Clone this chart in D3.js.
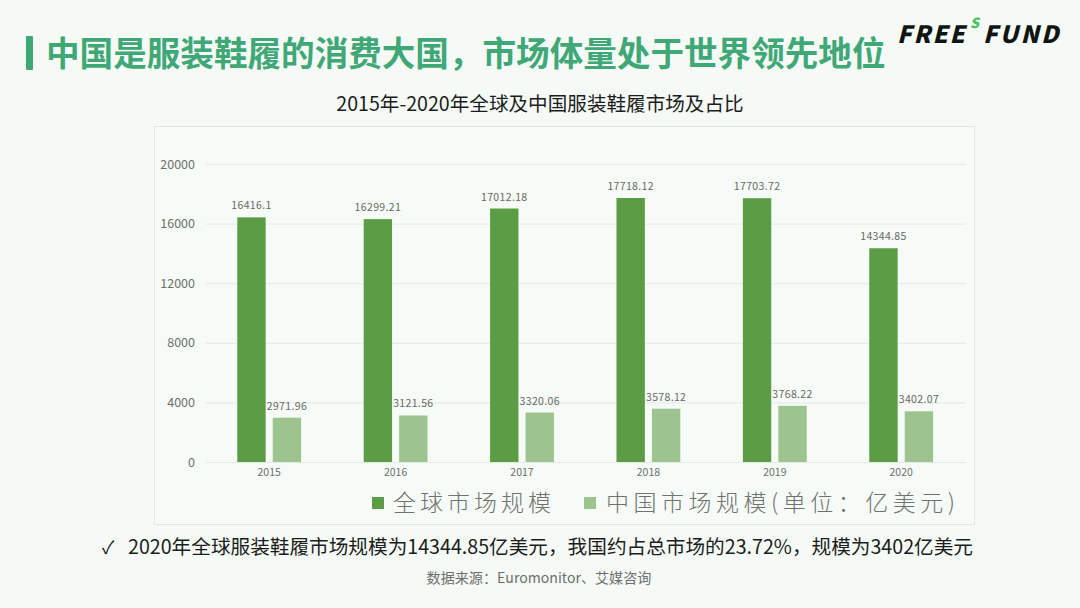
<!DOCTYPE html>
<html>
<head>
<meta charset="utf-8">
<script src="https://cdnjs.cloudflare.com/ajax/libs/d3/7.8.5/d3.min.js"></script>
<style>
  html, body { margin: 0; padding: 0; background: #f5faf6; }
  svg { display: block; }
  text { font-family: "Noto Sans CJK SC", "Noto Sans", sans-serif; }
</style>
</head>
<body>
<svg id="chart" width="1080" height="608"></svg>
<script>
const years = ["2015", "2016", "2017", "2018", "2019", "2020"];
const seriesNames = ["全球市场规模", "中国市场规模(单位：亿美元)"];
const globalValues = [16416.1, 16299.21, 17012.18, 17718.12, 17703.72, 14344.85];
const chinaValues = [2971.96, 3121.56, 3320.06, 3578.12, 3768.22, 3402.07];
const valueTicks = [0, 4000, 8000, 12000, 16000, 20000];
const seriesColors = ["#5c9c45", "#9dc48f"];

const svg = d3.select("#chart");

// slide header
svg.append("rect").attr("x", 26).attr("y", 36).attr("width", 7).attr("height", 34)
  .attr("rx", 1).attr("fill", "#3fa876");
svg.append("text").attr("x", 46).attr("y", 66)
  .attr("font-size", 33.6).attr("font-weight", 700).attr("fill", "#3fa876")
  .text("中国是服装鞋履的消费大国，市场体量处于世界领先地位");

// logo
const logo = svg.append("g").attr("font-family", "Roboto, Inter, sans-serif")
  .attr("font-size", 24).attr("font-weight", 900).attr("font-style", "italic")
  .attr("fill", "#101512");
logo.append("text").attr("x", 897).attr("y", 43).attr("letter-spacing", 2).text("FREE");
logo.append("text").attr("x", 983).attr("y", 43).attr("letter-spacing", 2.3).text("FUND");
logo.append("text").attr("x", 970).attr("y", 28).attr("font-size", 14).attr("fill", "#4cc05a").text("S");

// chart frame and title
svg.append("text").attr("x", 540).attr("y", 111).attr("text-anchor", "middle")
  .attr("font-size", 19.6).attr("fill", "#1c1c1c")
  .text("2015年-2020年全球及中国服装鞋履市场及占比");
svg.append("rect").attr("x", 154.5).attr("y", 126.5).attr("width", 820).attr("height", 398)
  .attr("fill", "#f6fbf7").attr("stroke", "#e1e7e2");

const x0 = d3.scaleBand().domain(years).range([206, 964.4]).paddingInner(0.495).paddingOuter(0.2475);
const x1 = d3.scaleBand().domain(seriesNames).range([0, x0.bandwidth()]).paddingInner(0.2);
const y = d3.scaleLinear().domain([0, 20000]).range([462, 164]);

// gridlines
svg.append("g").selectAll("line").data(valueTicks).join("line")
  .attr("x1", 206).attr("x2", 966)
  .attr("y1", d => y(d) + 0.5).attr("y2", d => y(d) + 0.5)
  .attr("stroke", "#e3e9e3");

// y axis labels
const yAxis = svg.append("g").attr("transform", "translate(206,0)")
  .call(d3.axisLeft(y).tickValues(valueTicks).tickFormat(d3.format("d")).tickSize(0).tickPadding(11));
yAxis.select(".domain").remove();
yAxis.selectAll("text").attr("font-size", 12.5).attr("fill", "#6d6f6d")
  .style("font-family", '"Noto Sans CJK SC", sans-serif');

// x axis labels
const xAxis = svg.append("g").attr("transform", "translate(0,462)")
  .call(d3.axisBottom(x0).tickSize(0).tickPadding(7));
xAxis.select(".domain").remove();
xAxis.selectAll("text").attr("font-size", 10.5).attr("fill", "#6d6f6d")
  .style("font-family", '"Noto Sans CJK SC", sans-serif');

// bars and value labels
[globalValues, chinaValues].forEach((values, s) => {
  const g = svg.append("g");
  g.selectAll("rect").data(values).join("rect")
    .attr("x", (d, i) => x0(years[i]) + x1(seriesNames[s]))
    .attr("y", d => y(d))
    .attr("width", x1.bandwidth())
    .attr("height", d => y(0) - y(d))
    .attr("fill", seriesColors[s]);
  g.selectAll("text").data(values).join("text")
    .attr("x", (d, i) => x0(years[i]) + x1(seriesNames[s]) + x1.bandwidth() / 2)
    .attr("y", d => y(d) - 8)
    .attr("text-anchor", "middle")
    .attr("font-size", 10.5).attr("letter-spacing", 0.35).attr("fill", "#666866")
    .text(d => d);
});

// legend
const legend = svg.append("g").attr("font-size", 23).attr("font-weight", 300)
  .attr("fill", "#707270");
legend.append("rect").attr("x", 372).attr("y", 497).attr("width", 12).attr("height", 12).attr("fill", seriesColors[0]);
legend.append("text").attr("x", 393).attr("y", 511).attr("letter-spacing", 4).text(seriesNames[0]);
legend.append("rect").attr("x", 584).attr("y", 497).attr("width", 12).attr("height", 12).attr("fill", seriesColors[1]);
legend.append("text").attr("x", 606).attr("y", 511).attr("letter-spacing", 4.5).text(seriesNames[1]);

// takeaway and source
svg.append("text").attr("x", 102).attr("y", 554).attr("font-size", 18).attr("fill", "#1c1c1c").text("✓");
svg.append("text").attr("x", 128).attr("y", 554).attr("font-size", 19.65).attr("fill", "#1c1c1c")
  .text("2020年全球服装鞋履市场规模为14344.85亿美元，我国约占总市场的23.72%，规模为3402亿美元");
svg.append("text").attr("x", 539).attr("y", 583).attr("text-anchor", "middle")
  .attr("font-size", 14.1).attr("fill", "#6d6f6d")
  .text("数据来源：Euromonitor、艾媒咨询");
</script>
</body>
</html>
